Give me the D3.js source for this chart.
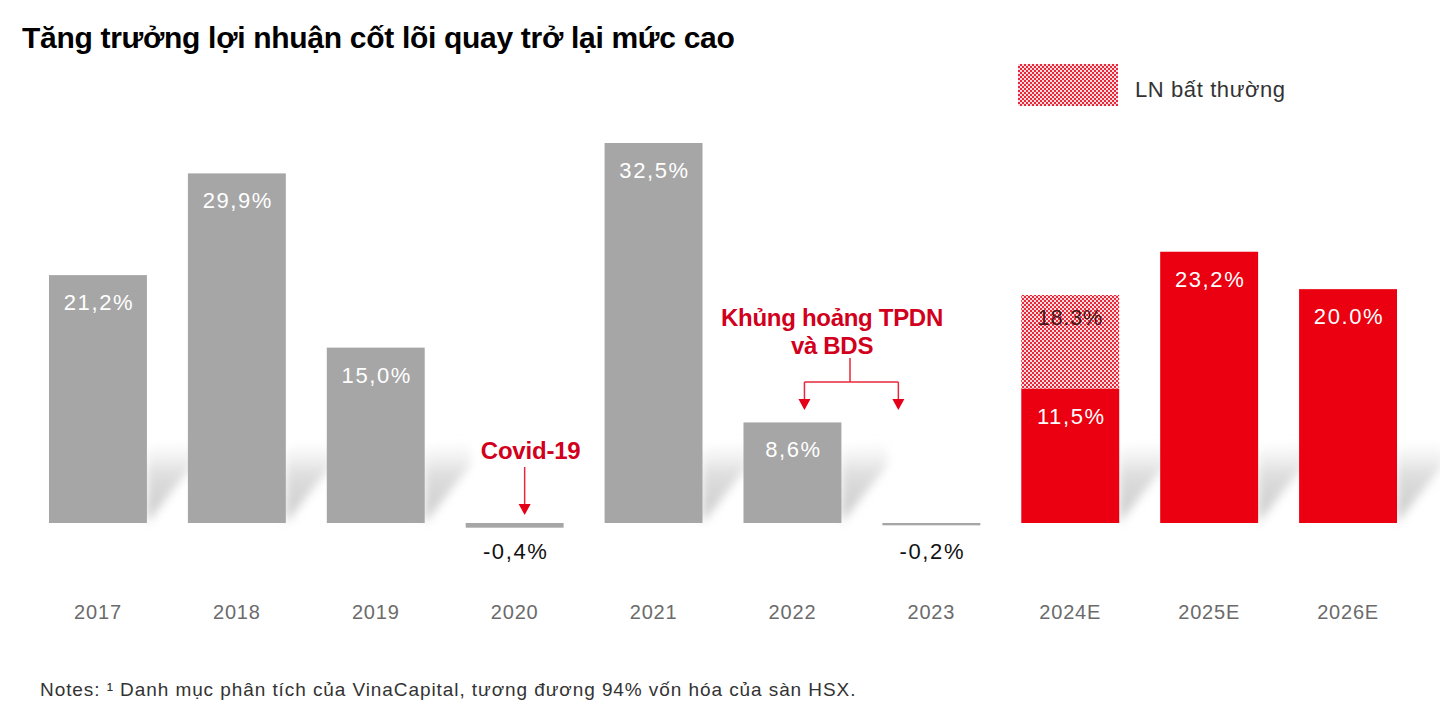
<!DOCTYPE html>
<html>
<head>
<meta charset="utf-8">
<script src="https://cdn.jsdelivr.net/npm/d3@7"></script>
<style>
  html, body { margin: 0; padding: 0; background: #fff; }
  svg { display: block; }
</style>
</head>
<body>
<svg id="chart" width="1440" height="716"></svg>
<script>
// ---- data ----
const years = ["2017", "2018", "2019", "2020", "2021", "2022", "2023", "2024E", "2025E", "2026E"];
const coreGrowth = [21.2, 29.9, 15.0, -0.4, 32.5, 8.6, -0.2, 11.5, 23.2, 20.0];
const coreLabels = ["21,2%", "29,9%", "15,0%", "-0,4%", "32,5%", "8,6%", "-0,2%", "11,5%", "23,2%", "20.0%"];
const isForecast = [false, false, false, false, false, false, false, true, true, true];
// abnormal profit segment (stacked on top of core), only 2024E
const abnormalYears = ["2024E"];
const abnormalValues = [8.0];
const abnormalLabels = ["18.3%"];

const titleText = "Tăng trưởng lợi nhuận cốt lõi quay trở lại mức cao";
const legendText = "LN bất thường";
const noteText = "Notes: \u00B9 Danh mục phân tích của VinaCapital, tương đương 94% vốn hóa của sàn HSX.";

const GREY = "#a6a6a6", RED = "#ea0011", ANN = "#d1001c";
const FONT = "Liberation Sans, Arial, sans-serif";

const svg = d3.select("#chart");
const defs = svg.append("defs");

// checker hatch pattern
const pat = defs.append("pattern").attr("id", "hatch").attr("patternUnits", "userSpaceOnUse")
  .attr("width", 4).attr("height", 4);
pat.append("rect").attr("width", 4).attr("height", 4).attr("fill", "#fbdde0");
pat.append("rect").attr("width", 2).attr("height", 2).attr("fill", "#e8283a");
pat.append("rect").attr("x", 2).attr("y", 2).attr("width", 2).attr("height", 2).attr("fill", "#e8283a");

// shadow blur + gradient
defs.append("filter").attr("id", "blur").attr("x", "-50%").attr("y", "-50%").attr("width", "200%").attr("height", "200%")
  .append("feGaussianBlur").attr("stdDeviation", 5);
const grad = defs.append("linearGradient").attr("id", "shgrad").attr("x1", 0).attr("y1", 1).attr("x2", 0).attr("y2", 0);
grad.append("stop").attr("offset", "0%").attr("stop-color", "#c8c8c8").attr("stop-opacity", 1);
grad.append("stop").attr("offset", "60%").attr("stop-color", "#d6d6d6").attr("stop-opacity", 0.8);
grad.append("stop").attr("offset", "100%").attr("stop-color", "#e8e8e8").attr("stop-opacity", 0);

// scales
const x = d3.scaleBand().domain(years).range([28.5, 1417.5]).paddingInner(0.295).paddingOuter(0.1475);
const y = d3.scaleLinear().domain([0, 32.5]).range([523, 143]);
const base = y(0);

const data = years.map((yr, i) => ({ yr, v: coreGrowth[i], label: coreLabels[i], fc: isForecast[i] }));

// shadows
const shadowG = svg.append("g").attr("filter", "url(#blur)");
data.filter(d => d.v > 3).forEach(d => {
  const x1 = x(d.yr) + x.bandwidth();
  const h = Math.min(75, base - y(d.v));
  shadowG.append("path")
    .attr("d", `M${x1},${base} L${x1 + 46},${base - 58} L${x1 + 46},${base - h - 8} L${x1},${base - h} Z`)
    .attr("fill", "url(#shgrad)");
});

// bars
svg.append("g").selectAll("rect").data(data).join("rect")
  .attr("x", d => x(d.yr))
  .attr("width", x.bandwidth())
  .attr("y", d => d.v >= 0 ? y(d.v) : base)
  .attr("height", d => Math.abs(y(d.v) - base))
  .attr("fill", d => d.fc ? RED : GREY);

// abnormal stacked segment
abnormalYears.forEach((yr, i) => {
  const core = coreGrowth[years.indexOf(yr)];
  svg.append("rect")
    .attr("x", x(yr)).attr("width", x.bandwidth())
    .attr("y", y(core + abnormalValues[i]))
    .attr("height", y(core) - y(core + abnormalValues[i]))
    .attr("fill", "url(#hatch)");
  svg.append("text")
    .attr("x", x(yr) + x.bandwidth() / 2)
    .attr("y", y(core + abnormalValues[i]) + 30)
    .attr("text-anchor", "middle")
    .attr("font-family", FONT)
    .attr("font-size", 22).attr("letter-spacing", 0.6).attr("fill", "#4a1418")
    .text(abnormalLabels[i]);
});

// value labels
svg.append("g").selectAll("text").data(data).join("text")
  .attr("x", d => x(d.yr) + x.bandwidth() / 2 + 1)
  .attr("y", d => d.v >= 0 ? y(d.v) + 35 : base + 36)
  .attr("text-anchor", "middle")
  .attr("font-family", FONT)
  .attr("font-size", 22)
  .attr("letter-spacing", 1.6)
  .attr("fill", d => d.v >= 0 ? "#fff" : "#111")
  .text(d => d.label);

// x axis labels
const xAxis = d3.axisBottom(x).tickSize(0).tickPadding(0);
const ax = svg.append("g").attr("transform", "translate(0,605)").call(xAxis);
ax.select(".domain").remove();
ax.selectAll("text")
  .attr("font-family", FONT)
  .attr("font-size", 20).attr("letter-spacing", 0.8).attr("fill", "#6b6b6b");

// title
svg.append("text").attr("x", 22).attr("y", 48)
  .attr("font-family", FONT)
  .attr("font-weight", "bold").attr("font-size", 30).attr("letter-spacing", -0.3)
  .attr("fill", "#000").text(titleText);

// legend
svg.append("rect").attr("x", 1018).attr("y", 64).attr("width", 100).attr("height", 42).attr("fill", "url(#hatch)");
svg.append("text").attr("x", 1135).attr("y", 97)
  .attr("font-family", FONT)
  .attr("font-size", 22).attr("letter-spacing", 0.6).attr("fill", "#333").text(legendText);

// annotations
const cx2020 = x("2020") + x.bandwidth() / 2;
svg.append("text").attr("x", cx2020 + 16).attr("y", 459).attr("text-anchor", "middle")
  .attr("font-family", FONT).attr("font-weight", "bold").attr("font-size", 24).attr("letter-spacing", -0.2).attr("fill", ANN)
  .text("Covid-19");
function arrow(xp, y0, y1) {
  svg.append("line").attr("x1", xp).attr("x2", xp).attr("y1", y0).attr("y2", y1 - 10)
    .attr("stroke", "#e8283a").attr("stroke-width", 1.5);
  svg.append("path").attr("d", `M${xp - 6},${y1 - 11} L${xp + 6},${y1 - 11} L${xp},${y1} Z`).attr("fill", "#e5001a");
}
arrow(cx2020 + 10, 467, 515);

const cx2022 = x("2022") + x.bandwidth() / 2;
const cx2023 = x("2023") + x.bandwidth() / 2;
const midK = 850;
svg.append("text").attr("x", 832).attr("y", 326).attr("text-anchor", "middle")
  .attr("font-family", FONT).attr("font-weight", "bold").attr("font-size", 24).attr("letter-spacing", -0.3).attr("fill", ANN)
  .text("Khủng hoảng TPDN");
svg.append("text").attr("x", 832).attr("y", 354).attr("text-anchor", "middle")
  .attr("font-family", FONT).attr("font-weight", "bold").attr("font-size", 24).attr("letter-spacing", -0.3).attr("fill", ANN)
  .text("và BDS");
svg.append("path").attr("d", `M${midK},358 V382 M${cx2022 + 12},382 H${cx2023 - 33}`)
  .attr("stroke", "#e8283a").attr("stroke-width", 1.5).attr("fill", "none");
arrow(cx2022 + 12, 382, 410);
arrow(cx2023 - 33, 382, 410);

// note
svg.append("text").attr("x", 40).attr("y", 696)
  .attr("font-family", FONT)
  .attr("font-size", 19).attr("letter-spacing", 0.92).attr("fill", "#333").text(noteText);
</script>
</body>
</html>
